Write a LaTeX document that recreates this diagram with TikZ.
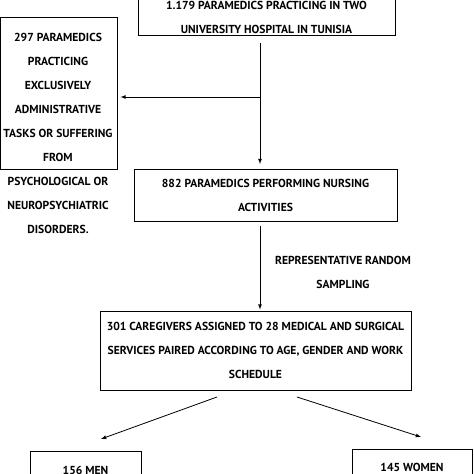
\documentclass[tikz,border=0pt]{standalone}
\usepackage{fontspec}
\setmainfont{PT Sans}[BoldFont={PT Sans Bold}]
\usetikzlibrary{shapes,arrows}

\tikzset{
  box/.style={draw, line width=1pt, inner sep=0pt, align=center},
  txt/.style={align=center, inner sep=0pt},
  arr/.style={-latex, line width=.8pt}
}

\begin{document}
\begin{tikzpicture}[x=1pt, y=-1pt, font=\fontsize{11.6}{24}\selectfont\bfseries]
        \useasboundingbox (0,0) rectangle (474,474);
        % boxes
        \node [box, minimum width=257, minimum height=36] (hosp) at (266.5,17) {1.179 PARAMEDICS PRACTICING IN TWO\\UNIVERSITY HOSPITAL IN TUNISIA};
        \node [box, minimum width=116.5, minimum height=152] (exclbox) at (58.75,93) {};
        \node [txt] (excl) at (58,133) {297 PARAMEDICS\\PRACTICING\\EXCLUSIVELY\\ADMINISTRATIVE\\TASKS OR SUFFERING\\FROM\\PSYCHOLOGICAL OR\\NEUROPSYCHIATRIC\\DISORDERS.};
        \node [box, minimum width=263, minimum height=52] (nurse) at (265.5,195.5) {882 PARAMEDICS PERFORMING NURSING\\ACTIVITIES};
        \node [txt] (sampl) at (343,272) {REPRESENTATIVE RANDOM\\SAMPLING};
        \node [box, minimum width=311, minimum height=79] (care) at (255.5,350.5) {301 CAREGIVERS ASSIGNED TO 28 MEDICAL AND SURGICAL\\SERVICES PAIRED ACCORDING TO AGE, GENDER AND WORK\\SCHEDULE};
        \node [box, minimum width=111, minimum height=38] (men) at (85.5,470) {156 MEN};
        \node [box, minimum width=120, minimum height=36] (women) at (412,467) {145 WOMEN};
        % arrows
        \coordinate (split) at (260,97);
        \draw [arr, shorten <=7pt, shorten >=5pt] (hosp.south -| split) -- (nurse.north -| split);
        \draw [arr, shorten >=3pt] (split) -- (split -| exclbox.east);
        \draw [arr, shorten <=4pt, shorten >=1pt] (nurse.south -| split) -- (care.north -| split);
        \coordinate (menfrom) at (217,397);
        \coordinate (mento) at (101,439);
        \coordinate (womenfrom) at (297,397);
        \coordinate (womento) at (421,437);
        \draw [arr] (menfrom) -- (mento);
        \draw [arr] (womenfrom) -- (womento);
    \end{tikzpicture}
\end{document}
